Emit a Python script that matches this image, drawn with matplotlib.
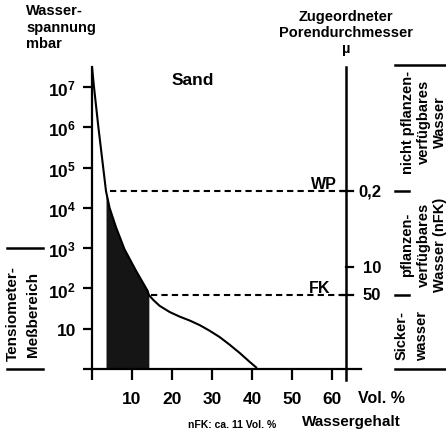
import numpy as np
import matplotlib
matplotlib.use("Agg")
import matplotlib.pyplot as plt
from matplotlib.ticker import NullLocator

plt.rcParams['font.family'] = ['Liberation Sans', 'DejaVu Sans']
plt.rcParams['font.weight'] = 'bold'

# Sand-Kurve: Wassergehalt (Vol. %) gegen Wasserspannung (mbar)
water_content = [0.0, 0.5, 1.6, 2.8, 3.5, 4.4, 6.0, 8.1, 11.0, 13.9, 14.2,
                 15.3, 16.9, 19.4, 21.9, 24.4, 26.9, 29.4, 31.9, 34.4, 36.9, 39.4, 41.0]
tension_mbar = [3.2e7, 1.0e7, 1.0e6, 1.0e5, 2.6e4, 1.0e4, 3.3e3, 9.5e2, 2.75e2, 87, 69,
                52, 37, 26, 20, 16, 12.3, 8.9, 6.2, 4.0, 2.5, 1.5, 1.1]

# Welkepunkt / Feldkapazität
wp_content, wp_tension = 3.5, 2.6e4
fk_content, fk_tension = 14.2, 69

x_ticks = [0, 10, 20, 30, 40, 50, 60]
x_labels = ["", "10", "20", "30", "40", "50", "60"]
y_ticks = [1, 1e1, 1e2, 1e3, 1e4, 1e5, 1e6, 1e7]
y_labels = ["", "10"] + [r"$\mathdefault{10^{%d}}$" % k for k in range(2, 8)]

# rechte Achse: zugeordneter Porendurchmesser (µ)
pore_axis_x = 63.4
pore_labels = ["0,2", "10", "50"]
pore_tension = [wp_tension, 340, fk_tension]

# Wasserbereiche rechts und Tensiometer-Messbereich links
zone_edges = [3.5e7, wp_tension, fk_tension, 1]
zone_lines = [["nicht pflanzen-", "verfügbares", "Wasser"],
              ["pflanzen-", "verfügbares", "Wasser (nFK)"],
              ["Sicker-", "wasser"]]
zone_cols_px = [[407.5, 423.5, 440], [407.5, 423.5, 440], [401.5, 422]]
zone_mid_px = [122, 245, 336]
tensio_range = [1, 1000]
tensio_lines = ["Tensiometer-", "Meßbereich"]
tensio_cols_px = [13, 32.5]
tensio_mid_px = 314

W, H = 446, 435
fig = plt.figure(figsize=(W / 100, H / 100), dpi=100)
ax = fig.add_axes([92 / W, 65 / H, 269 / W, 302 / H])
ax.set_yscale('log')
ax.set_xlim(0, 67.2)
ax.set_ylim(1, 10 ** 7.5)
ax.yaxis.set_minor_locator(NullLocator())
for s in ('top', 'right'):
    ax.spines[s].set_visible(False)
for s in ('left', 'bottom'):
    ax.spines[s].set_linewidth(1.6)


def px_x(p):
    # Pixelspalte -> x-Datenwert (Achse beginnt bei 92 px, 269 px breit)
    return (p - 92) / 269 * 67.2


def px_y(p):
    # Pixelzeile -> mbar (Achse unten bei 370 px, 302 px für 7,5 Dekaden)
    return 10 ** ((370 - p) / 302 * 7.5)


ax.set_xticks(x_ticks)
ax.set_xticklabels(x_labels, fontsize=12.5, fontweight='bold')
ax.set_yticks(y_ticks)
ax.set_yticklabels(y_labels, fontsize=12.5, fontweight='bold')
ax.tick_params(axis='x', direction='out', length=8, width=1.6, pad=7.5)
ax.tick_params(axis='y', direction='out', length=6.5, width=1.6, pad=5)

# Kurve und nFK-Fläche
ax.plot(water_content, tension_mbar, color='k', lw=1.5)
wc = np.array(water_content)
tm = np.array(tension_mbar)
sel = (wc >= wp_content) & (wc <= fk_content)
ax.fill_between(wc[sel], 1, tm[sel], color='#151515', lw=0)

# WP / FK gestrichelt
ax.hlines([wp_tension, fk_tension], [wp_content + 1.0, fk_content + 0.6], pore_axis_x,
          colors='k', lw=1.5, linestyles=(0, (3, 2)))
ax.annotate("WP", (px_x(337), wp_tension), xytext=(0, 2), textcoords='offset points',
            ha='right', va='baseline', fontsize=11.5)
ax.annotate("FK", (px_x(330), fk_tension), xytext=(0, 2), textcoords='offset points',
            ha='right', va='baseline', fontsize=11.5)

# rechte Achse
ax.axvline(pore_axis_x, ymin=-11 / 302, ymax=1, color='k', lw=1.8, clip_on=False)
for lab, t in zip(pore_labels, pore_tension):
    x0 = pore_axis_x if lab == "10" else pore_axis_x - 1.2
    ax.plot([x0, pore_axis_x + 1.9], [t, t], color='k', lw=1.6, clip_on=False)
    ax.text(px_x(381), t, lab, ha='right', va='center', fontsize=12)

# Bereiche rechts
for i, e in enumerate(zone_edges):
    x1 = px_x(409) if 0 < i < len(zone_edges) - 1 else px_x(450)
    ax.plot([px_x(395), x1], [e, e], color='k', lw=1.8, clip_on=False)
for lines, cols, mid in zip(zone_lines, zone_cols_px, zone_mid_px):
    for txt, c in zip(lines, cols):
        ax.text(px_x(c), px_y(mid), txt, rotation=90, ha='center', va='center',
                fontsize=10.5)

# Tensiometer-Messbereich links
for t in tensio_range:
    ax.plot([px_x(7), px_x(43)], [t, t], color='k', lw=1.8, clip_on=False)
for txt, c in zip(tensio_lines, tensio_cols_px):
    ax.text(px_x(c), px_y(tensio_mid_px), txt, rotation=90, ha='center', va='center',
            fontsize=11)

# Beschriftungen
fig.text(26 / W, 1 - 4 / H, "Wasser-\nspannung\nmbar", ha='left', va='top',
         fontsize=10.5, linespacing=1.25)
fig.text(346 / W, 1 - 10 / H, "Zugeordneter\nPorendurchmesser\nµ", ha='center', va='top',
         multialignment='center', fontsize=10.5, linespacing=1.2)
fig.text(172 / W, 1 - 85 / H, "Sand", ha='left', va='baseline', fontsize=12.5)
fig.text(358 / W, 1 - 399 / H, "Vol. %", ha='left', va='center', fontsize=11.5)
fig.text(302 / W, 1 - 422 / H, "Wassergehalt", ha='left', va='center', fontsize=11)
fig.text(188 / W, 1 - 425 / H, "nFK: ca. 11 Vol. %", ha='left', va='center', fontsize=7.5)

fig.savefig("out.png", dpi=100)
